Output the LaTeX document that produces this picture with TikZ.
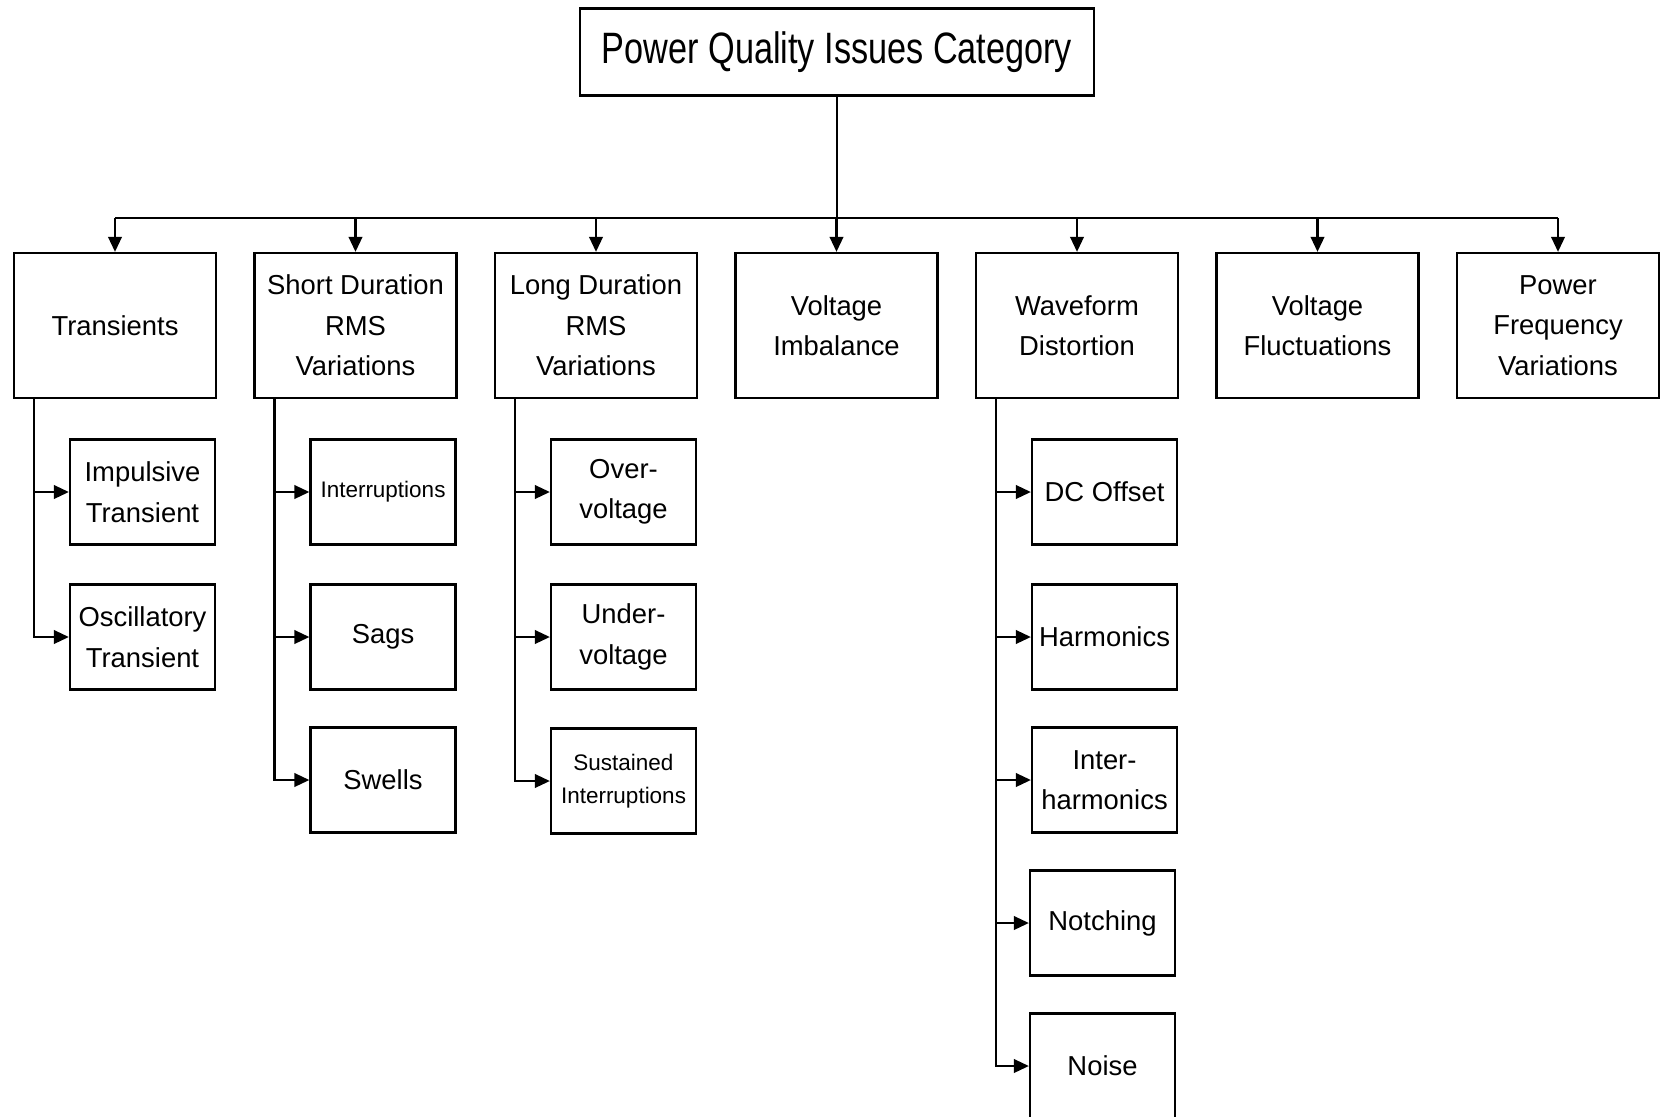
\documentclass[tikz,border=0pt]{standalone}
\usepackage{graphicx}
\usepackage{fontspec}
\setmainfont{Liberation Sans}
\usetikzlibrary{arrows.meta}

\begin{document}
\begin{tikzpicture}[
  x=0.02cm, y=-0.02cm,
  line width=1.3pt,
  cat/.style={draw, align=center, inner sep=0pt,
    minimum width=4.04cm, minimum height=2.9cm,
    font=\fontsize{15.6}{23}\selectfont},
  sub/.style={cat, minimum width=2.9cm, minimum height=2.1cm},
  smalltext/.style={font=\fontsize{12.8}{18.5}\selectfont},
  arr/.style={-{Triangle[length=0.3cm,width=0.27cm]}}
]
  \useasboundingbox (0,0) rectangle (1666,1116);

  \node[cat, minimum width=10.28cm, minimum height=1.74cm,
        font=\fontsize{25}{30}\selectfont] (top) at (837,52)
        {\scalebox{0.78}[1]{Power Quality Issues Category}};

  % categories
  \node[cat] (c1) at (115,325.5)    {Transients};
  \node[cat] (c2) at (355.5,325.5)  {Short Duration\\RMS\\Variations};
  \node[cat] (c3) at (596,325.5)    {Long Duration\\RMS\\Variations};
  \node[cat] (c4) at (836.5,325.5)  {Voltage\\Imbalance};
  \node[cat] (c5) at (1077,325.5)   {Waveform\\Distortion};
  \node[cat] (c6) at (1317.5,325.5) {Voltage\\Fluctuations};
  \node[cat] (c7) at (1558,325.5)   {Power\\Frequency\\Variations};

  % sub issues
  \node[sub] (c1a) at (142.5,492) {Impulsive\\Transient};
  \node[sub] (c1b) at (142.5,637) {Oscillatory\\Transient};

  \node[sub, smalltext] (c2a) at (383,492) {Interruptions};
  \node[sub] (c2b) at (383,637) {Sags};
  \node[sub] (c2c) at (383,780) {Swells};

  \node[sub] (c3a) at (623.5,492) {Over-\\voltage};
  \node[sub] (c3b) at (623.5,637) {Under-\\voltage};
  \node[sub, smalltext] (c3c) at (623.5,781) {Sustained\\Interruptions};

  \node[sub] (c5a) at (1104.5,492)  {DC Offset};
  \node[sub] (c5b) at (1104.5,637)  {Harmonics};
  \node[sub] (c5c) at (1104.5,780)  {Inter-\\harmonics};
  \node[sub] (c5d) at (1102.5,923)  {Notching};
  \node[sub] (c5e) at (1102.5,1066) {Noise};

  % top level connectors
  \coordinate (bus) at (837,218);
  \draw (top.south) -- (bus);
  \draw (bus -| c1.north) -- (bus -| c7.north);
  \foreach \c in {c1,c2,c3,c4,c5,c6,c7}
    \draw[arr] (bus -| \c.north) -- (\c.north);

  % branches
  \coordinate (k1) at ([xshift=0.42cm]c1.south west);
  \coordinate (k2) at ([xshift=0.42cm]c2.south west);
  \coordinate (k3) at ([xshift=0.42cm]c3.south west);
  \coordinate (k5) at ([xshift=0.42cm]c5.south west);

  \foreach \s in {c1a,c1b}
    \draw[arr] (k1) |- (\s.west);
  \foreach \s in {c2a,c2b,c2c}
    \draw[arr] (k2) |- (\s.west);
  \foreach \s in {c3a,c3b,c3c}
    \draw[arr] (k3) |- (\s.west);
  \foreach \s in {c5a,c5b,c5c,c5d,c5e}
    \draw[arr] (k5) |- (\s.west);
\end{tikzpicture}
\end{document}
